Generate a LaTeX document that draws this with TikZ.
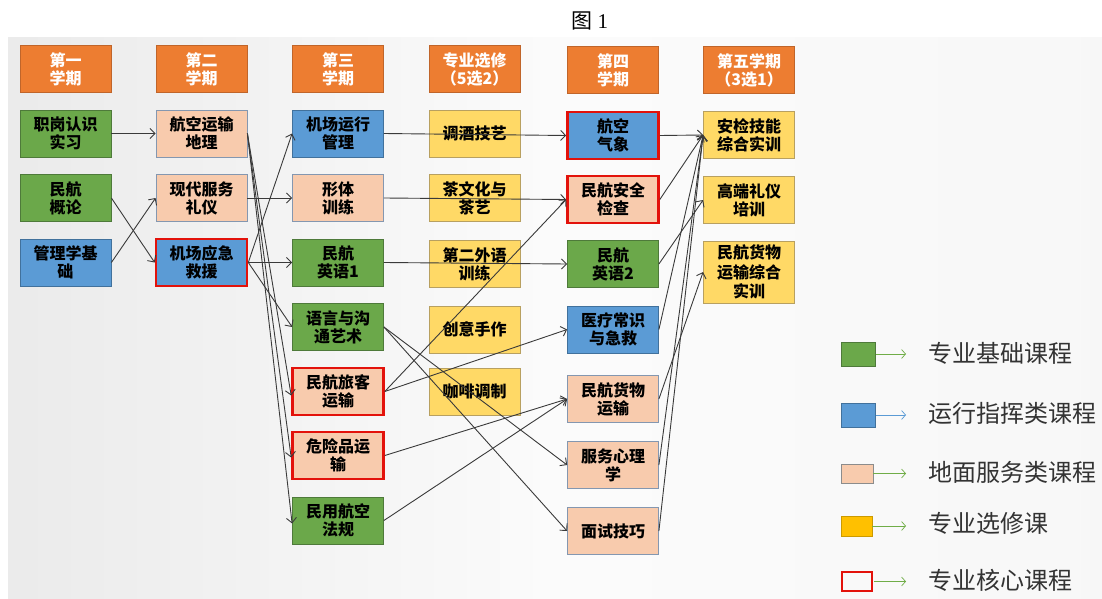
\documentclass[tikz,border=0pt]{standalone}
\usepackage{fontspec}
\setmainfont{Noto Sans CJK SC}
\newfontfamily\numserif{Liberation Serif}
\usetikzlibrary{arrows.meta}
\definecolor{hdr}{HTML}{ED7D31}
\definecolor{hdrb}{HTML}{C0652A}
\definecolor{grn}{HTML}{6BA84A}
\definecolor{grnb}{HTML}{4E7A3A}
\definecolor{blu}{HTML}{5B9BD5}
\definecolor{blub}{HTML}{41719C}
\definecolor{pch}{HTML}{F8CBAD}
\definecolor{pchb}{HTML}{8497B0}
\definecolor{ylw}{HTML}{FFD966}
\definecolor{ylwb}{HTML}{B8A060}
\definecolor{lylw}{HTML}{FFC000}
\definecolor{core}{HTML}{E3120B}
\definecolor{linec}{HTML}{3A3A3A}
\definecolor{legtxt}{HTML}{333333}
\definecolor{legarr}{HTML}{70AD47}
\begin{document}
\begin{tikzpicture}[x=1pt,y=-1pt,
  box/.style={minimum width=91pt, minimum height=47pt, inner sep=0pt, align=center,
    font=\fontsize{16}{18}\selectfont\bfseries, text=black, line width=0.8pt},
  hd/.style={box, fill=hdr, draw=hdrb, text=white},
  gr/.style={box, fill=grn, draw=grnb},
  bl/.style={box, fill=blu, draw=blub},
  pc/.style={box, fill=pch, draw=pchb},
  yl/.style={box, fill=ylw, draw=ylwb},
  corebox/.style={draw=core, line width=2.6pt},
  conn/.style={draw=linec, line width=0.9pt, -{Straight Barb[length=5pt,width=10pt]}},
  legsq/.style={minimum width=34pt, minimum height=24pt, inner sep=0pt, line width=0.8pt},
  legline/.style={line width=0.7pt, -{Straight Barb[length=4pt,width=9pt]}},
  legtext/.style={anchor=west, inner sep=0pt, text=legtxt, font=\fontsize{24}{27}\selectfont}
]
\useasboundingbox (0,0) rectangle (1102,599);
\shade[left color=black!8, right color=black!3, middle color=black!1.5] (8,38) rectangle (1102,599);

\node[font=\fontsize{21}{23}\selectfont] (title) at (590,21) {图 \numserif 1};

% headers
\node[hd] (h1) at (65.5,69) {第一\\学期};
\node[hd] (h2) at (201.5,69) {第二\\学期};
\node[hd] (h3) at (338,69) {第三\\学期};
\node[hd] (he) at (474.5,69) {专业选修\\（5选2）};
\node[hd] (h4) at (613,70) {第四\\学期};
\node[hd] (h5) at (749,70) {第五学期\\（3选1）};

% column 1
\node[gr] (a1) at (65.5,133.5) {职岗认识\\实习};
\node[gr] (a2) at (65.5,198) {民航\\概论};
\node[bl] (a3) at (65.5,262.5) {管理学基\\础};

% column 2
\node[pc] (b1) at (201.5,133.5) {航空运输\\地理};
\node[pc] (b2) at (201.5,198) {现代服务\\礼仪};
\node[bl,corebox] (b3) at (201.5,262.5) {机场应急\\救援};

% column 3
\node[bl] (c1) at (338,133.5) {机场运行\\管理};
\node[pc] (c2) at (338,198) {形体\\训练};
\node[gr] (c3) at (338,262.5) {民航\\英语1};
\node[gr] (c4) at (338,327) {语言与沟\\通艺术};
\node[pc,corebox] (c5) at (338,391.5) {民航旅客\\运输};
\node[pc,corebox] (c6) at (338,455.5) {危险品运\\输};
\node[gr] (c7) at (338,520.5) {民用航空\\法规};

% electives
\node[yl] (e1) at (474.5,133.5) {调酒技艺};
\node[yl] (e2) at (474.5,198) {茶文化与\\茶艺};
\node[yl] (e3) at (474.5,264) {第二外语\\训练};
\node[yl] (e4) at (474.5,329.5) {创意手作};
\node[yl] (e5) at (474.5,392) {咖啡调制};

% column 4
\node[bl,corebox] (d1) at (613,135.5) {航空\\气象};
\node[pc,corebox] (d2) at (613,199.5) {民航安全\\检查};
\node[gr] (d3) at (613,264) {民航\\英语2};
\node[bl] (d4) at (613,329.5) {医疗常识\\与急救};
\node[pc] (d5) at (613,399) {民航货物\\运输};
\node[pc] (d6) at (613,465) {服务心理\\学};
\node[pc] (d7) at (613,531) {面试技巧};

% column 5
\node[yl] (f1) at (749,135) {安检技能\\综合实训};
\node[yl] (f2) at (749,200) {高端礼仪\\培训};
\node[yl, minimum height=62pt, font=\fontsize{16}{19.5}\selectfont\bfseries] (f3) at (749,272) {民航货物\\运输综合\\实训};

% connectors col1 -> col2
\draw[conn] (a1.east) -- (b1.west);
\draw[conn] (a2.east) -- (b3.west);
\draw[conn] (a3.east) -- (b2.west);

% col2 -> col3
\draw[conn] (b1.east) -- ([yshift=-4pt]c5.west);
\draw[conn] (b1.east) -- ([yshift=-2pt]c6.west);
\draw[conn] (b1.east) -- ([yshift=-3pt]c7.west);
\draw[conn] (b2.east) -- (c2.west);
\draw[conn] (b3.east) -- (c1.west);
\draw[conn] (b3.east) -- (c3.west);
\draw[conn] (b3.east) -- (c4.west);

% col3 -> col4
\draw[conn] (c1.east) -- (d1.west);
\draw[conn] (c2.east) -- (d2.west);
\draw[conn] (c3.east) -- (d3.west);
\draw[conn] (c4.east) -- (d6.west);
\draw[conn] (c4.east) -- (d7.west);
\draw[conn] (c5.east) -- (d2.west);
\draw[conn] (c5.east) -- (d4.west);
\draw[conn] (c6.east) -- (d5.west);
\draw[conn] (c7.east) -- (d5.west);

% col4 -> col5
\draw[conn] (d1.east) -- (f1.west);
\draw[conn] (d2.east) -- (f1.west);
\draw[conn] (d3.east) -- (f2.west);
\draw[conn] (d4.east) -- (f1.west);
\draw[conn] (d5.east) -- (f3.west);
\draw[conn] (d6.east) -- (f1.west);
\draw[conn] (d7.east) -- (f1.west);

% legend
\node[legsq, fill=grn, draw=grnb] (l1) at (858.5,354) {};
\node[legsq, fill=blu, draw=blub] (l2) at (858.5,415) {};
\node[legsq, fill=pch, draw=black!45, minimum width=32pt, minimum height=19pt] (l3) at (857,473.5) {};
\node[legsq, fill=lylw, draw=lylw!80!black, minimum width=31pt, minimum height=20pt] (l4) at (856.5,526) {};
\node[legsq, draw=core, line width=2.4pt, minimum width=30pt, minimum height=19pt] (l5) at (857,581.5) {};
\coordinate (p1) at (906,354);
\coordinate (p2) at (906,415);
\coordinate (p3) at (906,473.5);
\coordinate (p4) at (906,526);
\coordinate (p5) at (906,581.5);
\draw[legline, draw=legarr] (l1.east) -- (p1);
\draw[legline, draw=blu] (l2.east) -- (p2);
\draw[legline, draw=legarr] (l3.east) -- (p3);
\draw[legline, draw=legarr] (l4.east) -- (p4);
\draw[legline, draw=legarr] ([xshift=1.2pt]l5.east) -- (p5);
\node[legtext] (t1) at (928,353) {专业基础课程};
\node[legtext] (t2) at (928,413) {运行指挥类课程};
\node[legtext] (t3) at (928,472) {地面服务类课程};
\node[legtext] (t4) at (928,523) {专业选修课};
\node[legtext] (t5) at (928,580) {专业核心课程};
\end{tikzpicture}
\end{document}
